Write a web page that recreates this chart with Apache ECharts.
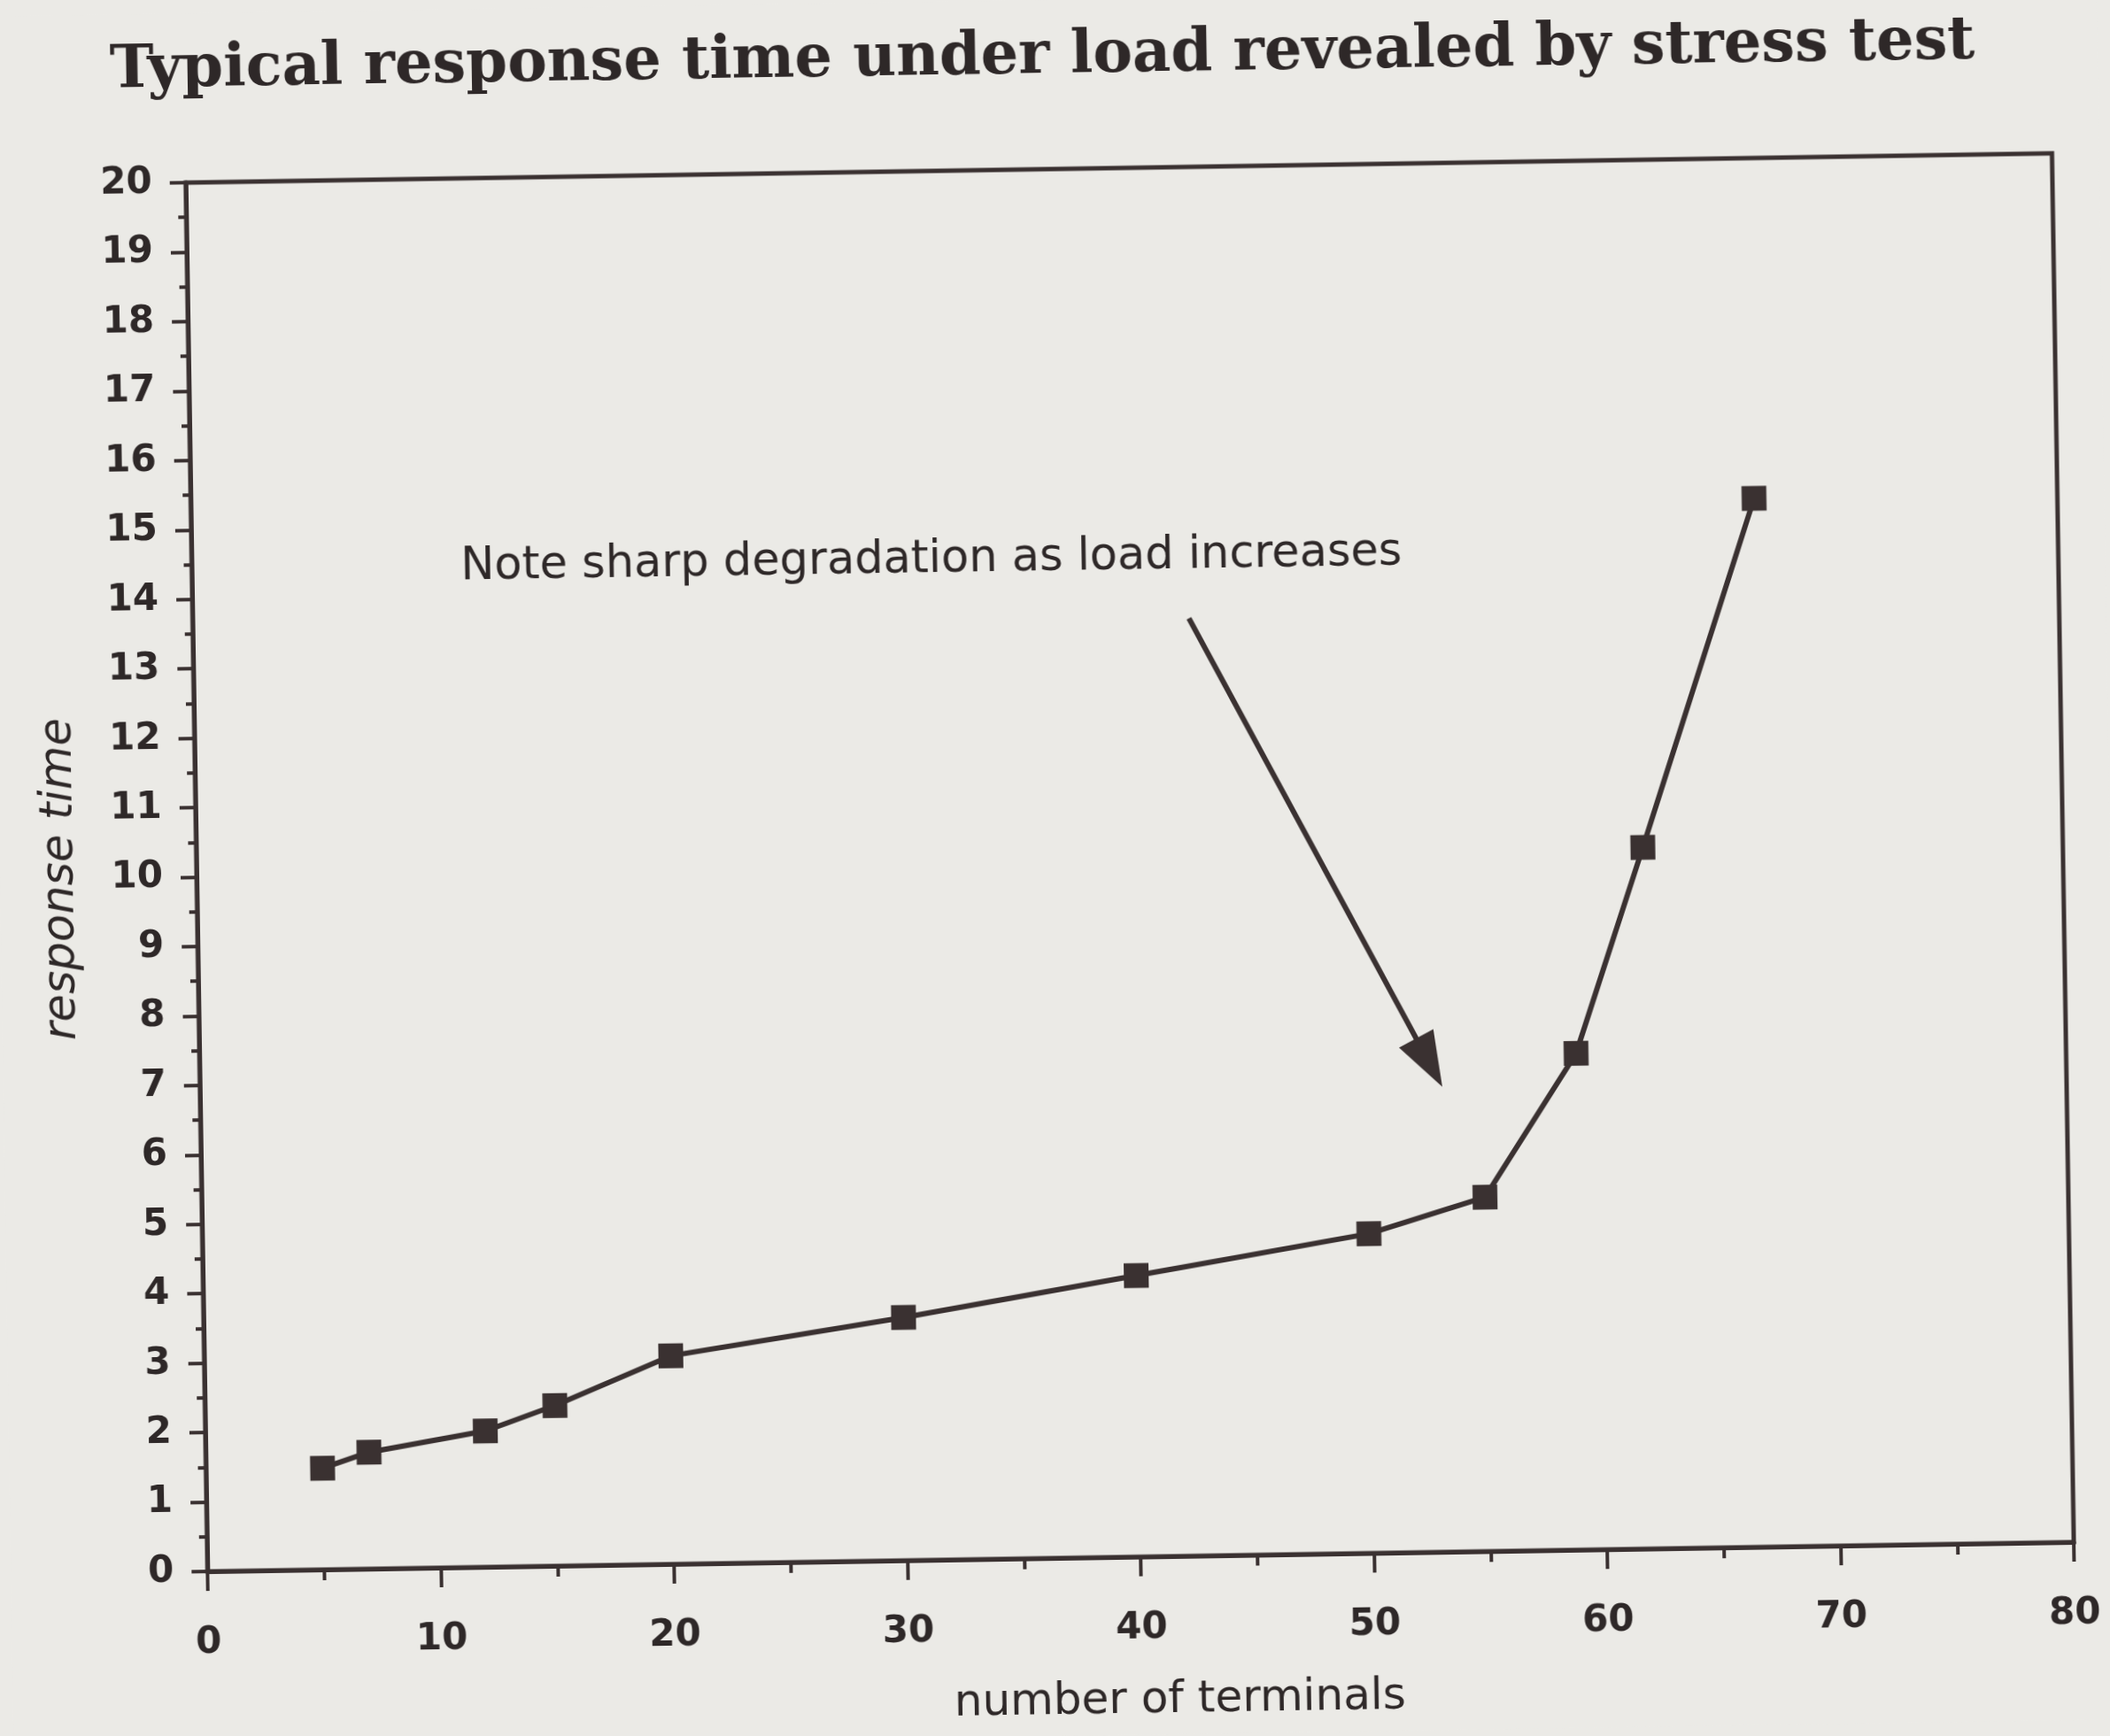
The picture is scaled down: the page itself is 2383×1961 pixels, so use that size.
<!DOCTYPE html>
<html>
    <head>
        <title>Typical response time under load</title>
        <meta charset="UTF-8">
        <script src="https://cdn.jsdelivr.net/npm/echarts@6/dist/echarts.min.js"></script>
        <style>
            body { margin: 0; background: #ebeae6; }
            /* the scanned page sits a little crooked */
            #chart { width: 2383px; height: 1961px; transform: rotate(-0.9deg); transform-origin: 50% 50%; }
        </style>
    </head>
    <body>
        <div id="chart"></div>
        <script>
            // number of terminals vs response time
            const terminals = [5, 7, 12, 15, 20, 30, 40, 50, 55, 59, 62, 67];
            const responseTime = [1.46, 1.68, 1.96, 2.31, 3.0, 3.5, 4.05, 4.6, 5.1, 7.15, 10.1, 15.1];

            const xRange = [0, 80];
            const xStep = 10;
            const yRange = [0, 20];
            const yStep = 1;

            const noteText = 'Note sharp degradation as load increases';
            const notePos = [31.7, 14.4];
            const arrowFrom = [42.7, 13.5];
            const arrowTo = [52.7, 7.05];

            const ink = '#3a3131';
            const chart = echarts.init(document.getElementById('chart'));

            chart.setOption({
                backgroundColor: '#ebeae6',
                animation: false,
                title: {
                    text: 'Typical response time under load revealed by stress test',
                    left: 'center',
                    top: 26,
                    textStyle: {
                        fontFamily: 'DejaVu Serif',
                        fontWeight: 'bold',
                        fontSize: 67,
                        color: '#2e2828'
                    }
                },
                grid: {
                    left: 222,
                    right: 53,
                    top: 191,
                    bottom: 201,
                    show: true,
                    borderColor: ink,
                    borderWidth: 5,
                    backgroundColor: 'transparent'
                },
                xAxis: {
                    type: 'value',
                    min: xRange[0],
                    max: xRange[1],
                    interval: xStep,
                    name: 'number of terminals',
                    nameLocation: 'middle',
                    nameGap: 138,
                    nameTextStyle: {
                        fontFamily: 'DejaVu Sans',
                        fontSize: 50,
                        color: '#2e2828',
                        padding: [0, 0, 0, 84]
                    },
                    axisLine: { lineStyle: { color: ink, width: 5 } },
                    axisTick: { length: 22, lineStyle: { color: ink, width: 4 } },
                    minorTick: { show: true, splitNumber: 2, length: 12, lineStyle: { color: ink, width: 4 } },
                    axisLabel: {
                        margin: 60,
                        fontFamily: 'DejaVu Sans',
                        fontWeight: 'bold',
                        fontSize: 42,
                        color: '#2e2828'
                    },
                    splitLine: { show: false }
                },
                yAxis: {
                    type: 'value',
                    min: yRange[0],
                    max: yRange[1],
                    interval: yStep,
                    name: 'response time',
                    nameLocation: 'middle',
                    nameGap: 128,
                    nameTextStyle: {
                        fontFamily: 'DejaVu Sans',
                        fontStyle: 'italic',
                        fontSize: 51,
                        color: '#2e2828'
                    },
                    axisLine: { lineStyle: { color: ink, width: 5 } },
                    axisTick: { length: 18, lineStyle: { color: ink, width: 4 } },
                    minorTick: { show: true, splitNumber: 2, length: 9, lineStyle: { color: ink, width: 4 } },
                    axisLabel: {
                        margin: 38,
                        fontFamily: 'DejaVu Sans',
                        fontWeight: 'bold',
                        fontSize: 42,
                        color: '#2e2828'
                    },
                    splitLine: { show: false }
                },
                series: [
                    {
                        type: 'line',
                        data: terminals.map((t, i) => [t, responseTime[i]]),
                        symbol: 'rect',
                        symbolSize: 28,
                        lineStyle: { color: ink, width: 6 },
                        itemStyle: { color: ink },
                        markLine: {
                            silent: true,
                            symbol: ['none', 'triangle'],
                            symbolSize: [44, 62],
                            lineStyle: { color: ink, width: 6, type: 'solid' },
                            label: { show: false },
                            emphasis: { disabled: true },
                            data: [[{ coord: arrowFrom }, { coord: arrowTo }]]
                        },
                        markPoint: {
                            silent: true,
                            symbol: 'rect',
                            symbolSize: 1,
                            itemStyle: { color: 'transparent' },
                            label: {
                                show: true,
                                position: 'inside',
                                formatter: noteText,
                                fontFamily: 'DejaVu Sans',
                                fontSize: 51,
                                color: '#2e2828'
                            },
                            data: [{ coord: notePos }]
                        }
                    }
                ]
            });
        </script>
    </body>
</html>
